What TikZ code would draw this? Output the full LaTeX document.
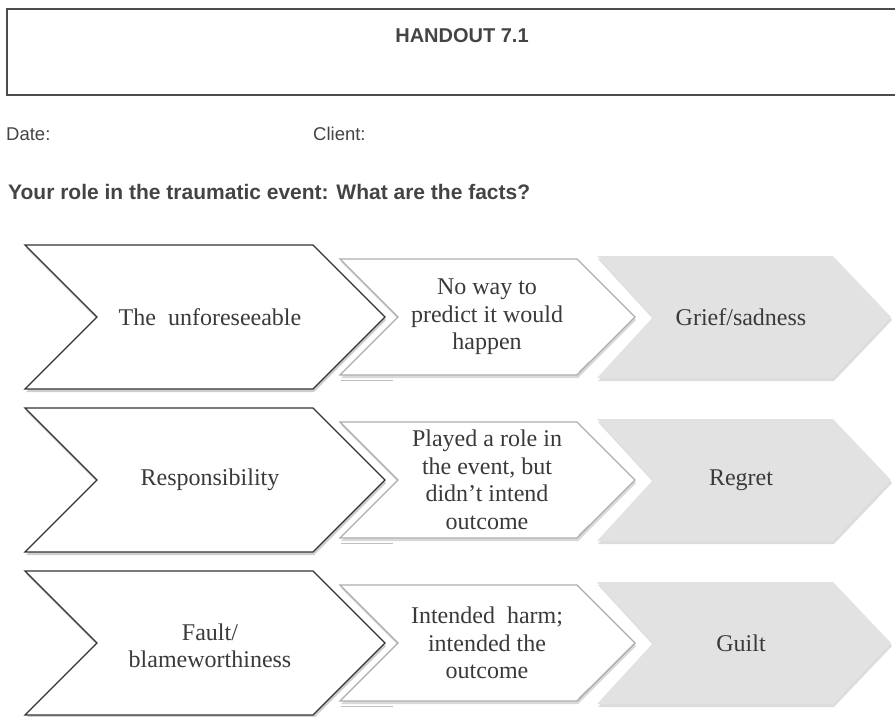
\documentclass[tikz,border=0pt]{standalone}
\usepackage{fontspec}
\setmainfont{Liberation Serif}
\setsansfont{Liberation Sans}
\usetikzlibrary{shadows}
\definecolor{txt}{HTML}{3A3A3A}
\definecolor{hdr}{HTML}{444444}
\definecolor{grayfill}{HTML}{E2E2E2}
\begin{document}
\begin{tikzpicture}[x=1pt,y=-1pt,
  hbox/.style={draw=black!70, line width=1.2pt, drop shadow={shadow xshift=0pt,shadow yshift=-1.5pt,opacity=0.3,fill=black!60}},
  bigchev/.style={draw=black!80, line width=1.3pt, fill=white, drop shadow={shadow xshift=1pt,shadow yshift=-3pt,opacity=0.35,fill=black!55}},
  midchev/.style={draw=black!32, line width=1.4pt, fill=white, drop shadow={shadow xshift=1pt,shadow yshift=-3pt,opacity=0.3,fill=black!50}},
  graychev/.style={fill=grayfill, drop shadow={shadow xshift=1pt,shadow yshift=-3pt,opacity=0.3,fill=black!45}},
  artline/.style={draw=black!25, line width=1pt},
  lbl/.style={font=\fontsize{24}{27.5}\selectfont, text=txt, align=center, inner sep=0pt},
  sanslbl/.style={font=\sffamily\fontsize{18.5}{22}\selectfont, text=hdr, inner sep=0pt},
]
\useasboundingbox (0,0) rectangle (895,717);
\clip (0,0) rectangle (895,717);

% header
\path[hbox, fill=white] (7,9) rectangle (925,95);
\node[font=\sffamily\bfseries\fontsize{20}{24}\selectfont, text=hdr, inner sep=0pt] (handout) at (462,36) {HANDOUT 7.1};
\node[sanslbl, anchor=west] (date) at (6,134) {Date:};
\node[sanslbl, anchor=west] (client) at (313,134) {Client:};
\node[font=\sffamily\bfseries\fontsize{21}{24}\selectfont, text=hdr, inner sep=0pt, anchor=base west] (title) at (8,199) {Your role in the traumatic event: What are the facts?};

% chevrons
\foreach \cy in {317,480,643}{
  \path[graychev] (597,{\cy-61}) -- (833,{\cy-61}) -- (891,\cy) -- (833,{\cy+61}) -- (597,{\cy+61}) -- (653,\cy) -- cycle;
  \path[midchev] (340,{\cy-58}) -- (577,{\cy-58}) -- (635,\cy) -- (577,{\cy+58}) -- (340,{\cy+58}) -- (398,\cy) -- cycle;
  \draw[artline] (341,{\cy+63}) -- (393,{\cy+63});
  \draw[artline] (579,{\cy+55}) -- (589,{\cy+45});
  \path[bigchev] (25,{\cy-72}) -- (313,{\cy-72}) -- (385,\cy) -- (313,{\cy+72}) -- (25,{\cy+72}) -- (97,\cy) -- cycle;
}

% labels
\node[lbl] (a1) at (210,317) {The\ \ unforeseeable};
\node[lbl] (b1) at (487,317) {No way to\\predict it would\\happen};
\node[lbl] (c1) at (741,317) {Grief/sadness};

\node[lbl] (a2) at (210,480) {Responsibility};
\node[lbl] (b2) at (487,480) {Played a role in\\the event, but\\didn’t intend\\outcome};
\node[lbl] (c2) at (741,480) {Regret};

\node[lbl] (a3) at (210,646) {Fault/\\blameworthiness};
\node[lbl] (b3) at (487,643) {Intended\ \ harm;\\intended the\\outcome};
\node[lbl] (c3) at (741,643) {Guilt};
\end{tikzpicture}
\end{document}
